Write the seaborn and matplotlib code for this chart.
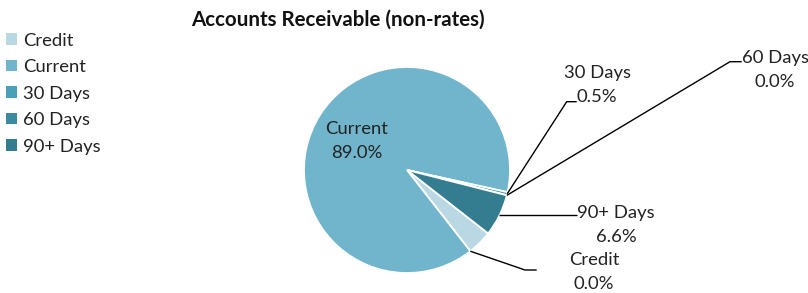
import matplotlib
matplotlib.use("Agg")
import matplotlib.pyplot as plt
import matplotlib.patches as mpatches
import numpy as np
import seaborn as sns

categories = ["Credit", "Current", "30 Days", "60 Days", "90+ Days"]
values = [3.9, 89.0, 0.5, 0.0, 6.6]
label_pcts = ["0.0%", "89.0%", "0.5%", "0.0%", "6.6%"]
title = "Accounts Receivable (non-rates)"

sns.set_style("white")
plt.rcParams["font.family"] = ["Lato", "DejaVu Sans"]
colors = sns.color_palette(["#B9D8E3", "#70B5CC", "#4AA0B8", "#3B8AA0", "#347C90"])

W, H = 808, 293
fig = plt.figure(figsize=(W / 100, H / 100), dpi=100)
cx, cy, R = 407, 170, 103
ax = fig.add_axes([(cx - R) / W, (H - cy - R) / H, 2 * R / W, 2 * R / H])

def p(px, py):
    return ((px - cx) / R, (cy - py) / R)

wedges, _ = ax.pie(values, colors=colors, startangle=-38, counterclock=False,
                   radius=1.0, wedgeprops=dict(edgecolor="white", linewidth=1.3),
                   normalize=True)
ax.set_xlim(-1, 1)
ax.set_ylim(-1, 1)
ax.set_aspect("equal")
ax.axis("off")
for w in wedges:
    w.set_clip_on(False)

def edge_point(w, which="mid"):
    if which == "mid":
        a = (w.theta1 + w.theta2) / 2
    elif which == "t1":
        a = w.theta1
    else:
        a = w.theta2
    r = np.deg2rad(a)
    return (np.cos(r), np.sin(r))

fs = 13.3
tc = "#222222"
ls = 1.58
# Current label inside
x, y = p(357, 141)
ax.text(x, y, f"{categories[1]}\n{label_pcts[1]}", ha="center", va="center",
        fontsize=fs, color=tc, linespacing=ls, clip_on=False)

# outside labels with leader lines
specs = {
    2: dict(elbow=(566.7, 101.7), end=(576.7, 101.7), text=(597, 85)),
    3: dict(elbow=(730, 61.7), end=(741.7, 61.7), text=(775, 70)),
    4: dict(elbow=None, end=(576.7, 216), text=(616, 225)),
    0: dict(elbow=(525, 270), end=(536.7, 270), text=(594, 272)),
}
for i, s in specs.items():
    w = wedges[i]
    if i == 0:
        a0 = edge_point(w, "t1")
    else:
        a0 = edge_point(w, "mid")
    pts = [a0]
    if s["elbow"] is not None:
        pts.append(p(*s["elbow"]))
    pts.append(p(*s["end"]))
    if s["elbow"] is None:
        pts[-1] = (pts[-1][0], a0[1])
    xs, ys = zip(*pts)
    ax.plot(xs, ys, color="black", lw=1.0, clip_on=False, solid_capstyle="butt")
    tx, ty = p(*s["text"])
    ax.text(tx, ty, f"{categories[i]}\n{label_pcts[i]}", ha="center", va="center",
            fontsize=fs, color=tc, linespacing=ls, clip_on=False)

fig.text(338 / W, 1 - 20 / H, title, ha="center", va="center",
         fontsize=14.8, fontweight="bold", color="#111111")

handles = [mpatches.Patch(facecolor=c, edgecolor="none") for c in colors]
leg = fig.legend(handles, categories, loc="upper left",
                 bbox_to_anchor=(0 / W, 1 - 27 / H), frameon=False,
                 fontsize=fs, handlelength=0.6, handleheight=0.6,
                 handletextpad=0.35, labelspacing=0.57, borderaxespad=0,
                 borderpad=0.3)
for t in leg.get_texts():
    t.set_color(tc)

fig.savefig("out.png", dpi=100)
